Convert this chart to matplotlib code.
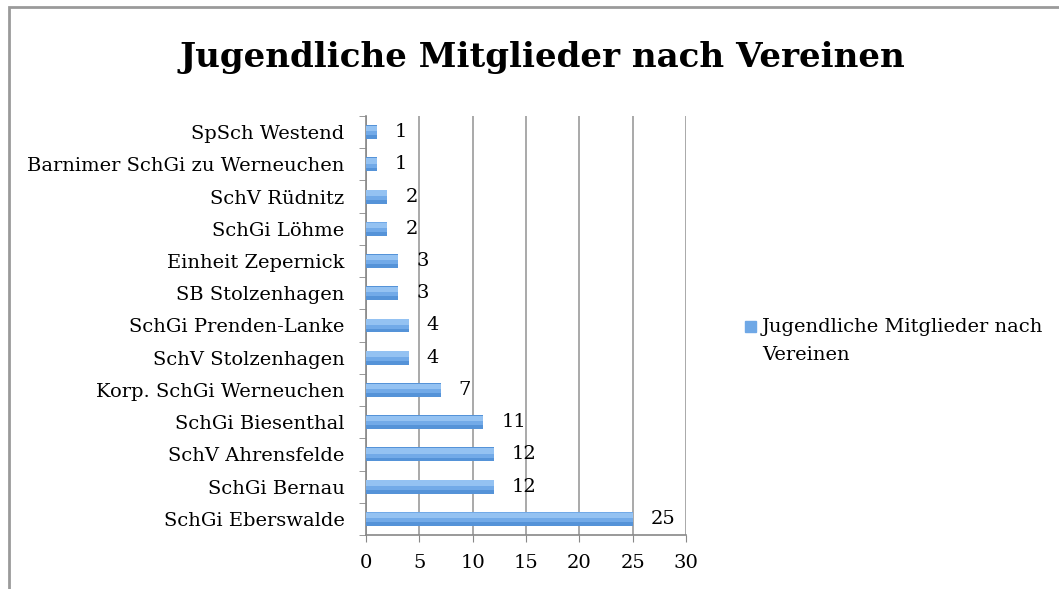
import matplotlib
matplotlib.use("Agg")
import matplotlib.pyplot as plt
from matplotlib.patches import Rectangle

clubs = [
    "SchGi Eberswalde",
    "SchGi Bernau",
    "SchV Ahrensfelde",
    "SchGi Biesenthal",
    "Korp. SchGi Werneuchen",
    "SchV Stolzenhagen",
    "SchGi Prenden-Lanke",
    "SB Stolzenhagen",
    "Einheit Zepernick",
    "SchGi Löhme",
    "SchV Rüdnitz",
    "Barnimer SchGi zu Werneuchen",
    "SpSch Westend",
]
members = [25, 12, 12, 11, 7, 4, 4, 3, 3, 2, 2, 1, 1]
x_ticks = [0, 5, 10, 15, 20, 25, 30]
title = "Jugendliche Mitglieder nach Vereinen"

plt.rcParams["font.family"] = ["DejaVu Serif"]

fig = plt.figure(figsize=(10.59, 5.89), dpi=100)
ax = fig.add_axes([366 / 1059, 1 - 535 / 589, 320 / 1059, 419 / 589])

y = list(range(len(clubs)))
# rough gradient: darker base, lighter bands towards the top
ax.barh(y, members, height=0.43, color="#5593D8", zorder=3)
ax.barh([v + 0.05 for v in y], members, height=0.3, color="#72AAE8", zorder=3)
ax.barh([v + 0.11 for v in y], members, height=0.17, color="#94C2F2", zorder=3)

for yi, v in zip(y, members):
    ax.annotate(str(v), (v, yi), xytext=(13, 0), textcoords="offset points",
                ha="left", va="center", fontsize=14, zorder=4)

ax.set_xlim(0, 30)
ax.set_ylim(-0.5, len(clubs) - 0.5)
ax.set_xticks(x_ticks)
ax.set_xticklabels([str(t) for t in x_ticks], fontsize=14)
ax.set_yticks(y)
ax.set_yticklabels(clubs, fontsize=14)
ax.set_yticks([v - 0.5 for v in range(len(clubs) + 1)], minor=True)
ax.tick_params(axis="y", which="major", length=0, pad=15.5)
ax.tick_params(axis="y", which="minor", length=5, color="#888888")
ax.tick_params(axis="x", length=5, color="#888888", pad=9)
ax.grid(axis="x", color="#A3A3A3", linewidth=1.3, zorder=0)
for side in ["top", "right"]:
    ax.spines[side].set_visible(False)
for side in ["left", "bottom"]:
    ax.spines[side].set_color("#888888")
    ax.spines[side].set_linewidth(1.2)

fig.text(0.512, 1 - 58 / 589, title, ha="center", va="center",
         fontsize=24.6, fontweight="bold")

# legend
fig.patches.append(Rectangle((745 / 1059, 1 - 332 / 589), 11 / 1059, 11 / 589,
                             transform=fig.transFigure, color="#6FA8E6"))
fig.text(762 / 1059, 1 - 327 / 589, "Jugendliche Mitglieder nach",
         ha="left", va="center", fontsize=14)
fig.text(762 / 1059, 1 - 355 / 589, "Vereinen",
         ha="left", va="center", fontsize=14)

# chart frame
fig.patches.append(Rectangle((9 / 1059, -0.05), 1.1, 1 - 7 / 589 + 0.05,
                             transform=fig.transFigure, fill=False,
                             edgecolor="#9A9A9A", linewidth=2))

fig.savefig("out.png", dpi=100)
